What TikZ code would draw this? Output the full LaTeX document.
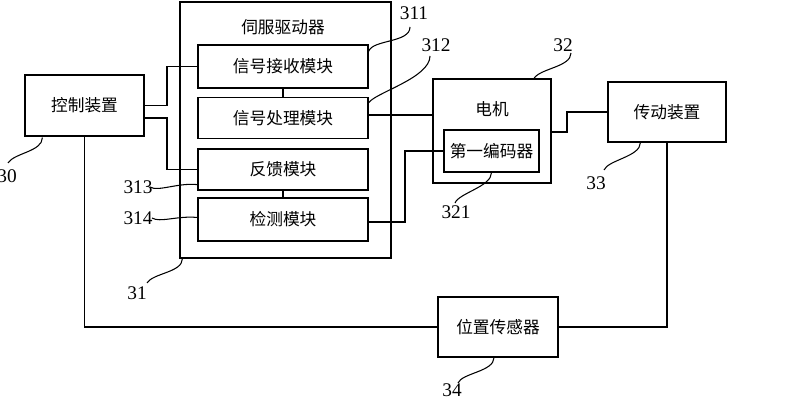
\documentclass[tikz,border=0pt]{standalone}
\usepackage{fontspec}
\setmainfont{Liberation Serif}
\newfontfamily\cjk{Noto Sans CJK SC}
\usetikzlibrary{calc}

\begin{document}
\begin{tikzpicture}[x=0.02cm,y=-0.02cm,line width=0.7pt,
  box/.style={rectangle,draw,inner sep=0pt,
  font=\cjk\fontsize{9.5}{11}\selectfont},
  title/.style={inner sep=0pt,font=\cjk\fontsize{9.5}{11}\selectfont},
  num/.style={inner sep=0pt,font=\fontsize{11}{13}\selectfont},
  leader/.style={line width=0.6pt}]

  \useasboundingbox (0,0) rectangle (800,404);

  %Servo driver frame and its modules%
  \node[box,minimum width=4.22cm,minimum height=5.12cm] (servo) at (285.5,130) {};
  \node[title] (servotitle) at (283,27) {伺服驱动器};
  \node[box,minimum width=3.4cm,minimum height=0.86cm] (rx) at (283,66.5) {信号接收模块};
  \node[box,minimum width=3.4cm,minimum height=0.82cm] (proc) at (283,118) {信号处理模块};
  \node[box,minimum width=3.4cm,minimum height=0.82cm] (fb) at (283,169.5) {反馈模块};
  \node[box,minimum width=3.4cm,minimum height=0.86cm] (det) at (283,219.5) {检测模块};

  %Other devices%
  \node[box,minimum width=2.38cm,minimum height=1.22cm] (ctrl) at (84.5,105.5) {控制装置};
  \node[box,minimum width=2.36cm,minimum height=2.08cm] (motor) at (492,131) {};
  \node[title] (motortitle) at (492,109) {电机};
  \node[box,minimum width=1.9cm,minimum height=0.84cm] (enc) at (491.5,151) {第一编码器};
  \node[box,minimum width=2.36cm,minimum height=1.2cm] (trans) at (667,112) {传动装置};
  \node[box,minimum width=2.4cm,minimum height=1.2cm] (sensor) at (498,327) {位置传感器};

  %Reference numbers%
  \node[num] (l30) at (7,176) {30};
  \node[num] (l31) at (137,293) {31};
  \node[num] (l311) at (414,13) {311};
  \node[num] (l312) at (436,45) {312};
  \node[num] (l313) at (138,187) {313};
  \node[num] (l314) at (138,218) {314};
  \node[num] (l32) at (563,45) {32};
  \node[num] (l321) at (456,212) {321};
  \node[num] (l33) at (596,183) {33};
  \node[num] (l34) at (452,390) {34};

  \coordinate (j1) at (167,0);
  \coordinate (j2) at (405,0);
  \coordinate (j3) at (567,0);
  \coordinate (c2) at ($(ctrl.east)+(0,12.5)$);
  \coordinate (p1) at ($(proc.east)+(0,-3)$);
  \coordinate (d1) at ($(det.east)+(0,2.5)$);
  \coordinate (m1) at ($(motor.east)+(0,1)$);

  \path[draw]
    %Control device to receiving and feedback modules%
    (ctrl.east) -- (ctrl.east -| j1) |- (rx.west)
    (c2) -- (c2 -| j1) |- (fb.west)
    %Inside the servo driver%
    (rx) -- (proc)
    (fb) -- (det)
    %Servo driver to motor and encoder%
    (p1) -- (p1 -| motor.west)
    (d1) -- (d1 -| j2) |- (enc.west)
    %Motor to transmission%
    (m1) -- (m1 -| j3) |- (trans.west)
    %Position sensor loop%
    (trans.south) |- (sensor.east)
    (ctrl.south) |- (sensor.west);

  %Leader lines to the reference numbers%
  \draw[leader] ($(ctrl.south west)+(18,1)$) .. controls +(0,14) and +(6,-10) .. ($(l30)+(1,-13)$);
  \draw[leader] ($(servo.south west)+(3,0)$) .. controls +(0,14) and +(6,-10) .. ($(l31)+(10,-10)$);
  \draw[leader] ($(rx.north east)+(0,7)$) .. controls +(4,-12) and +(0,16) .. ($(l311)+(-4,14)$);
  \draw[leader] ($(proc.north east)+(0,6)$) .. controls +(6,-10) and +(0,22) .. ($(l312)+(-6,11)$);
  \draw[leader] ($(l313)+(12,0)$) .. controls +(8,5) and +(-20,-2) .. ($(fb.south west)+(0,-6)$);
  \draw[leader] ($(l314)+(14,0)$) .. controls +(8,5) and +(-20,-2) .. ($(det.west)+(0,-2)$);
  \draw[leader] ($(motor.north)+(42,0)$) .. controls +(6,-10) and +(0,14) .. ($(l32)+(8,8)$);
  \draw[leader] (enc.south) .. controls +(0,14) and +(4,-10) .. ($(l321)+(-1,-9)$);
  \draw[leader] ($(trans.south west)+(33,0)$) .. controls +(0,14) and +(4,-10) .. ($(l33)+(8,-13)$);
  \draw[leader] ($(sensor.south)+(-4,0)$) .. controls +(0,14) and +(4,-10) .. ($(l34)+(6,-7)$);

\end{tikzpicture}
\end{document}
